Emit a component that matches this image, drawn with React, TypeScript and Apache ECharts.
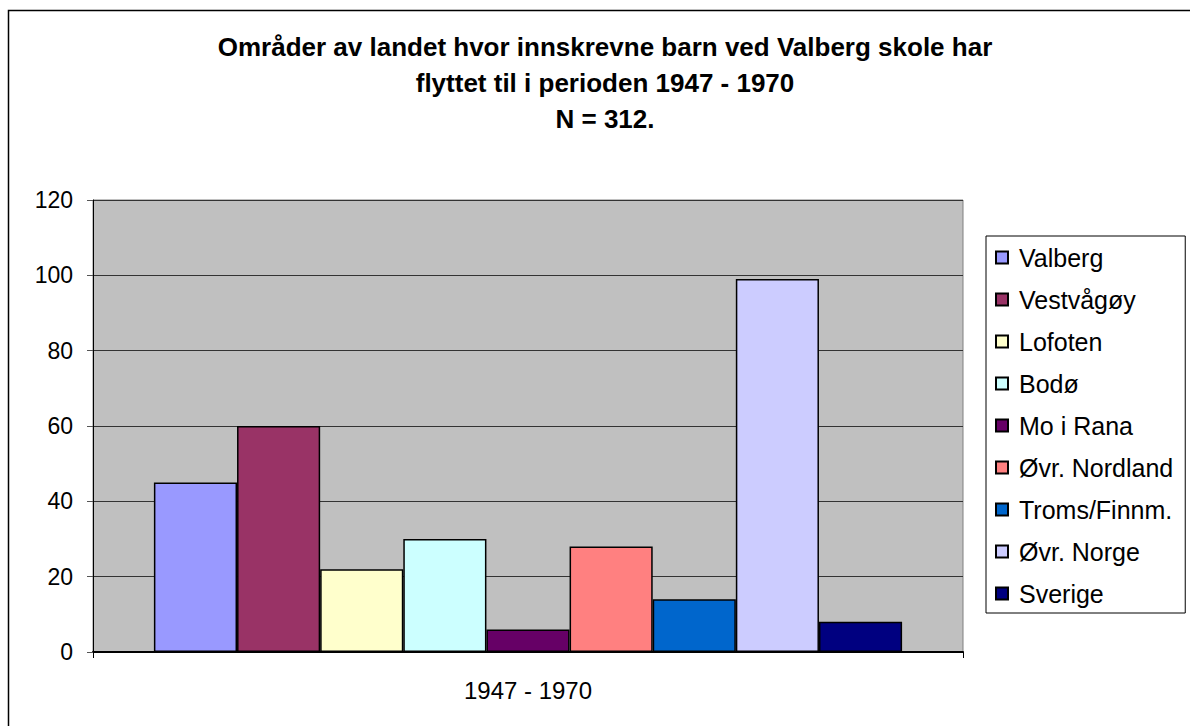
import React, { useEffect, useRef } from "react";
import * as echarts from "echarts";

const categories = ["1947 - 1970"];
const seriesNames = [
  "Valberg",
  "Vestvågøy",
  "Lofoten",
  "Bodø",
  "Mo i Rana",
  "Øvr. Nordland",
  "Troms/Finnm.",
  "Øvr. Norge",
  "Sverige",
];
const seriesValues = [45, 60, 22, 30, 6, 28, 14, 99, 8];
const seriesColors = [
  "#9999FF",
  "#993366",
  "#FFFFCC",
  "#CCFFFF",
  "#660066",
  "#FF8080",
  "#0066CC",
  "#CCCCFF",
  "#000080",
];
const yTicks = { min: 0, max: 120, interval: 20 };
const titleLines = [
  "Områder av landet hvor innskrevne barn ved Valberg skole har",
  "flyttet til i perioden 1947 - 1970",
  "N = 312.",
];

const FONT = "'Liberation Sans', Arial, sans-serif";

export default function App() {
  const ref = useRef<HTMLDivElement>(null);
  useEffect(() => {
    if (!ref.current) return;
    const chart = echarts.init(ref.current, null, { renderer: "svg" });
    chart.setOption({
      animation: false,
      backgroundColor: "#ffffff",
      textStyle: { fontFamily: FONT },
      title: {
        text: titleLines.join("\n"),
        left: 600,
        textAlign: "center",
        top: 24,
        textStyle: {
          fontFamily: FONT,
          fontSize: 26,
          fontWeight: "bold",
          lineHeight: 36,
          color: "#000",
        },
      },
      graphic: [
        {
          type: "rect",
          shape: { x: 8.5, y: 10.5, width: 1300, height: 800 },
          style: { fill: "none", stroke: "#000", lineWidth: 1.5 },
          silent: true,
        },
      ],
      grid: {
        left: 93,
        top: 200,
        right: 227,
        bottom: 74,
        show: true,
        backgroundColor: "#C0C0C0",
        borderColor: "#808080",
        borderWidth: 1,
      },
      legend: {
        orient: "vertical",
        left: 986,
        top: 236,
        padding: [9, 12, 7, 9],
        itemWidth: 12,
        itemHeight: 12,
        itemGap: 17,
        borderColor: "#000",
        borderWidth: 1,
        icon: "rect",
        textStyle: {
          fontFamily: FONT,
          fontSize: 25,
          lineHeight: 24,
          color: "#000",
          padding: [0, 0, 0, 6],
        },
        data: seriesNames,
      },
      xAxis: {
        type: "category",
        data: categories,
        axisLine: { lineStyle: { color: "#000", width: 2 } },
        axisTick: { show: true, length: 6, lineStyle: { color: "#000" } },
        axisLabel: {
          fontFamily: FONT,
          fontSize: 24,
          color: "#000",
          margin: 26,
        },
      },
      yAxis: {
        type: "value",
        min: yTicks.min,
        max: yTicks.max,
        interval: yTicks.interval,
        axisLine: { show: true, lineStyle: { color: "#000", width: 1 } },
        axisTick: { show: true, length: 6, lineStyle: { color: "#555" } },
        splitLine: { show: true, lineStyle: { color: "#333", width: 1 } },
        axisLabel: {
          fontFamily: FONT,
          fontSize: 23,
          color: "#000",
          margin: 20,
        },
      },
      series: seriesNames.map((name, i) => ({
        name,
        type: "bar",
        data: [seriesValues[i]],
        barGap: "0%",
        barCategoryGap: "14%",
        itemStyle: {
          color: seriesColors[i],
          borderColor: "#000",
          borderWidth: 1.5,
        },
      })),
    });
    return () => chart.dispose();
  }, []);
  return (
    <div
      ref={ref}
      style={{ position: "fixed", left: 0, top: 0, width: 1190, height: 726 }}
    />
  );
}
